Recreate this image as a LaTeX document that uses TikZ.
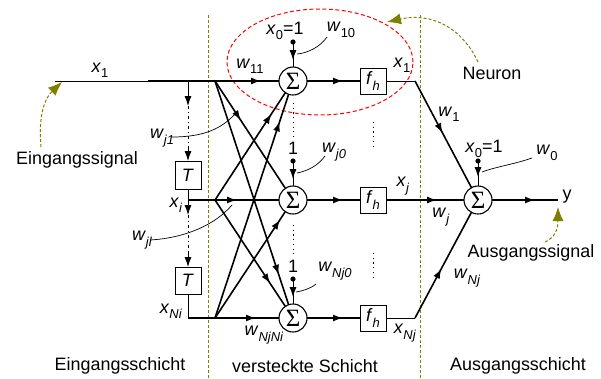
\documentclass[tikz,border=0pt]{standalone}
\usepackage{fontspec}
\setmainfont{Liberation Sans}
\newfontfamily\sigfont{Liberation Serif}
\usetikzlibrary{arrows.meta,decorations.markings,calc}
\definecolor{olivec}{RGB}{128,128,0}
\newcommand{\subtx}[1]{\raisebox{-0.3em}{\fontsize{13}{13}\selectfont #1}}
\newcommand{\vs}[2]{\textit{#1}\subtx{\textit{#2}}}
\newcommand{\vn}[2]{\textit{#1}\subtx{#2}}
\begin{document}
\begin{tikzpicture}[x=1bp,y=-1bp,
  font=\fontsize{18}{20}\selectfont,
  every node/.style={inner sep=0pt, outer sep=0pt},
  sumnode/.style={circle, draw, line width=1.1bp, minimum size=28bp, font={\sigfont\fontsize{25}{25}\selectfont}},
  fbox/.style={draw, line width=1bp, minimum width=26bp, minimum height=26bp},
  thk/.style={line width=1.6bp},
  thn/.style={line width=0.9bp},
  wire/.style={line width=0.7bp},
  arrat/.style={postaction={decorate}, decoration={markings, mark=at position #1 with {\arrow{Latex[length=10bp,width=7bp]}}}},
  endarr/.style={-{Latex[length=10bp,width=7bp]}},
  olarr/.style={olivec, line width=1bp, dash pattern=on 3bp off 2bp, -{Latex[length=14bp,width=11bp]}},
  dotl/.style={line width=0.9bp, dash pattern=on 1.2bp off 3.5bp},
  dashdotl/.style={line width=0.9bp, dash pattern=on 3bp off 3bp on 1bp off 3bp},
  sepline/.style={olivec, line width=1bp, dash pattern=on 3bp off 2bp}
]
\useasboundingbox (0,0) rectangle (601,378);

% layer separators
\draw[sepline] (208,15) -- (208,378);
\draw[sepline] (420,15) -- (420,378);

% neuron ellipse
\draw[red, line width=1bp, dash pattern=on 4bp off 2.5bp] (320,62) ellipse [x radius=93bp, y radius=53bp];

% nodes
\node[sumnode] (S1) at (293,81) {Σ};
\node[sumnode] (Sj) at (293,200) {Σ};
\node[sumnode] (SN) at (293,318) {Σ};
\node[sumnode] (SO) at (478,200) {Σ};
\node[fbox] (F1) at (373,81) {\vs{f}{h}};
\node[fbox] (Fj) at (373,200) {\vs{f}{h}};
\node[fbox] (FN) at (373,318) {\vs{f}{h}};
\node[fbox, minimum height=28bp] (T1) at (188,175) {\textit{T}};
\node[fbox, minimum height=27bp] (T2) at (188,280.5) {\textit{T}};

% coordinates
\coordinate (X0) at (55,81);
\coordinate (Xm) at (148,81);
\coordinate (B1) at (188,81);
\coordinate (B1a) at (188,106);
\coordinate (B1b) at (188,147);
\coordinate (A1) at (215,81);
\coordinate (Bi) at (188,200);
\coordinate (Bia) at (188,215);
\coordinate (Bib) at (188,252);
\coordinate (Ai) at (215,200);
\coordinate (BN) at (188,318);
\coordinate (AN) at (215,318);
\coordinate (C1) at (415,81);
\coordinate (CN) at (415,318);
\coordinate (Y) at (558,200);
\coordinate (D1) at (293,42);
\coordinate (Dj) at (293,161);
\coordinate (DN) at (293,279);
\coordinate (DO) at (478,161);

% input rows
\draw[thn] (X0) -- (Xm);
\draw[thk, arrat=-18bp] (Xm) -- (S1);
\draw[thn] (T1.south) -- (Bi);
\draw[thk, arrat=49bp] (Bi) -- (Sj);
\draw[thn] (T2.south) -- (BN);
\draw[thk, arrat=68bp] (BN) -- (SN);

% delay branches
\draw[thn, endarr] (B1) -- (B1a);
\draw[dashdotl] (B1a) -- (B1b);
\draw[thn, endarr] (B1b) -- (T1.north);
\draw[thn, endarr] (Bi) -- (Bia);
\draw[dashdotl] (Bia) -- (Bib);
\draw[thn, endarr] (Bib) -- (T2.north);

% cross connections
\draw[thk, arrat=47bp] (A1) -- (Sj);
\draw[thk, arrat=204bp] (A1) -- (SN);
\draw[thk, arrat=103bp] (Ai) -- (S1);
\draw[thk, arrat=100bp] (Ai) -- (SN);
\draw[thk, arrat=207bp] (AN) -- (S1);
\draw[thk, arrat=118bp] (AN) -- (Sj);

% biases
\fill (D1) circle (2.6bp); \draw[thn, arrat=18bp] (D1) -- (S1);
\fill (Dj) circle (2.6bp); \draw[thn, arrat=18bp] (Dj) -- (Sj);
\fill (DN) circle (2.6bp); \draw[thn, arrat=18bp] (DN) -- (SN);
\fill (DO) circle (2.6bp); \draw[thn, arrat=16bp] (DO) -- (SO);

% hidden to activation
\draw[thk, arrat=-17bp] (S1) -- (F1);
\draw[thk, arrat=-17bp] (Sj) -- (Fj);
\draw[thk, arrat=-17bp] (SN) -- (FN);

% output
\draw[thn] (F1) -- (C1);
\draw[thk, arrat=59bp] (C1) -- (SO);
\draw[thk, arrat=51bp] (Fj) -- (SO);
\draw[thn] (FN) -- (CN);
\draw[thk, arrat=56bp] (CN) -- (SO);
\draw[thk, arrat=-23bp] (SO) -- (Y);

% dotted continuation marks
\draw[dotl] (293,103) -- (293,138);
\draw[dotl] (293,225) -- (293,254);
\draw[dotl] (373,122) -- (373,148);
\draw[dotl] (373,253) -- (373,280);

% weight pointer curves
\draw[wire] (327,37) .. controls (320,47) and (308,53) .. (297,54);
\draw[wire] (325,156) .. controls (318,166) and (307,171) .. (297,173);
\draw[wire] (316,284) .. controls (310,289) and (302,291) .. (296,292);
\draw[wire] (532,158) .. controls (515,164) and (495,167) .. (482,172);
\draw[wire] (172,137) .. controls (205,137) and (222,128) .. (235,114);
\draw[wire] (150,240) .. controls (185,238) and (215,225) .. (232,205);

% olive pointer arrows
\draw[olarr] (41,147) .. controls (38,115) and (45,98) .. (62,82);
\draw[olarr] (478,62) .. controls (462,28) and (432,12) .. (387,22);
\draw[olarr] (545,242) .. controls (556,237) and (558,228) .. (558,207);

% labels
\node (lx1) at (100,70) {\vn{x}{1}};
\node (lw11) at (250,66) {\vn{w}{11}};
\node (lx0) at (285,31) {\vn{x}{0}=1};
\node (lw10) at (341,30) {\vn{w}{10}};
\node (lx1r) at (402,65) {\vn{x}{1}};
\node (lneur) at (492,73) {Neuron};
\node (lw1) at (449,114) {\vn{w}{1}};
\node (lx0o) at (484,149) {\vn{x}{0}=1};
\node (lw0) at (547,153) {\vn{w}{0}};
\node (lone1) at (293,148) {1};
\node (lwj0) at (334,152) {\vs{w}{j0}};
\node (lxj) at (403,186) {\vs{x}{j}};
\node (lwj) at (441,217) {\vs{w}{j}};
\node (ly) at (567,197) {y};
\node (lwj1) at (162,138) {\vs{w}{j1}};
\node (lxi) at (176,205) {\vs{x}{i}};
\node (lwjl) at (142,240) {\vs{w}{jl}};
\node (lxNi) at (171,311) {\vs{x}{Ni}};
\node (lone2) at (293,266) {1};
\node (lwNj0) at (335,271) {\vs{w}{Nj0}};
\node (lwNj) at (467,278) {\vs{w}{Nj}};
\node (lwNjNi) at (264,335) {\vs{w}{NjNi}};
\node (lxNj) at (405,333) {\vs{x}{Nj}};
\node (lin) at (77,160) {Eingangssignal};
\node (lout) at (531,253) {Ausgangssignal};
\node (lay1) at (120,366) {Eingangsschicht};
\node (lay2) at (305,366) {versteckte Schicht};
\node (lay3) at (518,366) {Ausgangsschicht};
\end{tikzpicture}
\end{document}
